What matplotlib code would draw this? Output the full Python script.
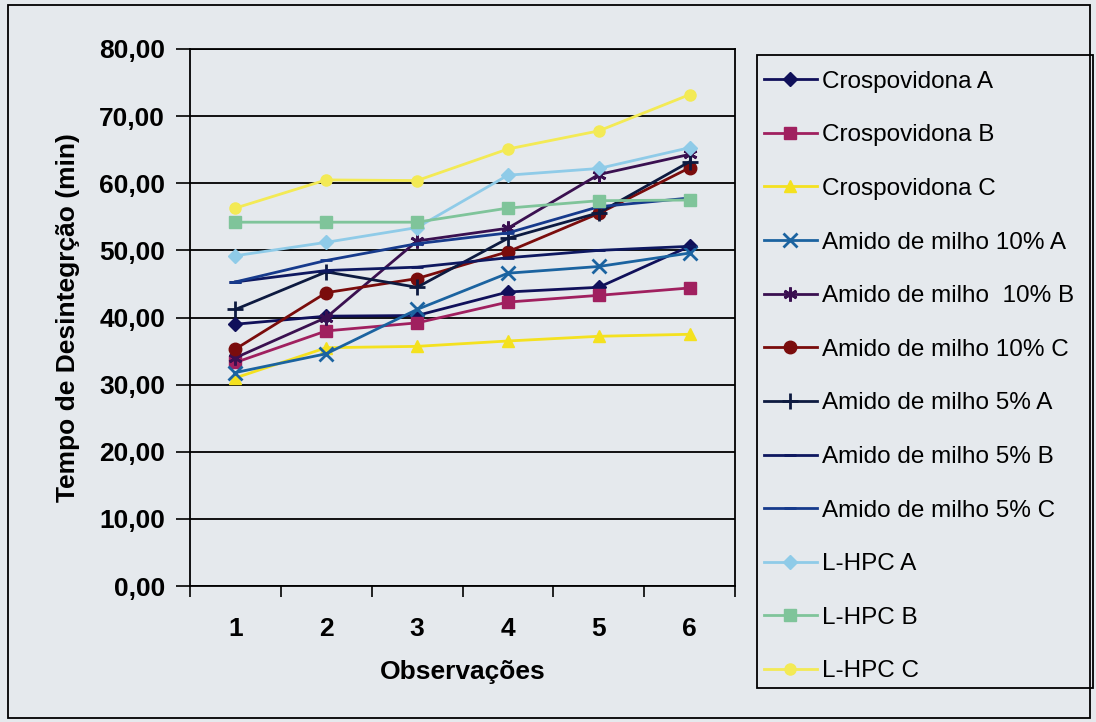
import matplotlib

matplotlib.use("Agg")
import matplotlib.pyplot as plt
from matplotlib.patches import Rectangle

plt.rcParams["font.family"] = ["Liberation Sans", "DejaVu Sans"]

observacoes = [1, 2, 3, 4, 5, 6]
y_ticks = [0, 10, 20, 30, 40, 50, 60, 70, 80]
y_tick_labels = ["0,00", "10,00", "20,00", "30,00", "40,00", "50,00", "60,00", "70,00", "80,00"]

crosp_a = [39.0, 40.2, 40.3, 43.8, 44.5, 50.6]
crosp_b = [33.3, 38.0, 39.2, 42.3, 43.3, 44.4]
crosp_c = [31.0, 35.5, 35.7, 36.5, 37.2, 37.5]
amido10_a = [31.8, 34.6, 41.2, 46.6, 47.6, 49.6]
amido10_b = [34.0, 40.0, 51.4, 53.3, 61.3, 64.3]
amido10_c = [35.3, 43.7, 45.8, 49.8, 55.5, 62.3]
amido5_a = [41.2, 46.8, 44.5, 51.8, 55.6, 63.2]
amido5_b = [45.3, 47.0, 47.5, 48.9, 50.0, 50.6]
amido5_c = [45.3, 48.5, 51.0, 52.6, 56.5, 57.8]
lhpc_a = [49.2, 51.2, 53.4, 61.2, 62.2, 65.3]
lhpc_b = [54.2, 54.2, 54.2, 56.3, 57.4, 57.5]
lhpc_c = [56.3, 60.5, 60.4, 65.1, 67.8, 73.2]

series = [
    ("Crospovidona A", crosp_a, "#10105a", "D", 7),
    ("Crospovidona B", crosp_b, "#a0205f", "s", 8),
    ("Crospovidona C", crosp_c, "#f4e11f", "^", 8),
    ("Amido de milho 10% A", amido10_a, "#1b63a0", "x", 10),
    ("Amido de milho  10% B", amido10_b, "#3a1050", (6, 2, 0), 10),
    ("Amido de milho 10% C", amido10_c, "#7a0c0c", "o", 9),
    ("Amido de milho 5% A", amido5_a, "#0d1a40", "+", 11),
    ("Amido de milho 5% B", amido5_b, "#0e1860", "_", 9),
    ("Amido de milho 5% C", amido5_c, "#163a8c", "_", 9),
    ("L-HPC A", lhpc_a, "#8fcbe8", "D", 7),
    ("L-HPC B", lhpc_b, "#7fc49a", "s", 8),
    ("L-HPC C", lhpc_c, "#f3ea55", "o", 8),
]

bg = "#e5e9ed"
fig = plt.figure(figsize=(10.96, 7.22), dpi=100, facecolor=bg)
ax = fig.add_axes([190 / 1096, 1 - 586 / 722, 545 / 1096, 537 / 722], facecolor=bg)

handles = []
for name, vals, color, marker, ms in series:
    thin = marker in ("x", "+", "_") or isinstance(marker, tuple)
    (h,) = ax.plot(observacoes, vals, color=color, marker=marker, markersize=ms,
                   markeredgewidth=2 if thin else 1, markeredgecolor=color,
                   linewidth=2.0, label=name)
    handles.append(h)

ax.set_xlim(0.5, 6.5)
ax.set_ylim(0, 80)
ax.set_yticks(y_ticks)
ax.set_yticklabels(y_tick_labels, fontsize=19, fontweight="bold")
ax.set_xticks(observacoes)
ax.set_xticklabels([str(v) for v in observacoes], fontsize=19, fontweight="bold")
ax.set_xticks([v + 0.5 for v in [0] + observacoes], minor=True)
ax.tick_params(axis="x", which="major", length=0, pad=22)
ax.tick_params(axis="x", which="minor", length=8, width=1.2, direction="out")
ax.tick_params(axis="y", length=10, width=1.2, direction="out", pad=8)
ax.grid(True, axis="y", color="black", linewidth=1.3)
ax.set_axisbelow(True)
for sp in ax.spines.values():
    sp.set_linewidth(1.3)

ax.set_xlabel("Observações", fontsize=19, fontweight="bold", labelpad=14)
ax.set_ylabel("Tempo de Desintegrção (min)", fontsize=19, fontweight="bold", labelpad=14)

# outer chart border and legend box
fig.patches.append(Rectangle((8 / 1096, 1 - 718 / 722), 1082 / 1096, 713 / 722,
                             transform=fig.transFigure, fill=False, edgecolor="black", linewidth=1.3))
fig.patches.append(Rectangle((757 / 1096, 1 - 688 / 722), 336 / 1096, 633 / 722,
                             transform=fig.transFigure, fill=False, edgecolor="black", linewidth=1.3))

fig.legend(handles=handles, loc="upper left", bbox_to_anchor=(754 / 1096, 1 - 61 / 722),
           frameon=False, fontsize=17.5, labelspacing=1.3, handlelength=2.2,
           handletextpad=0.2, borderaxespad=0)

fig.savefig("out.png", dpi=100, facecolor=bg)
